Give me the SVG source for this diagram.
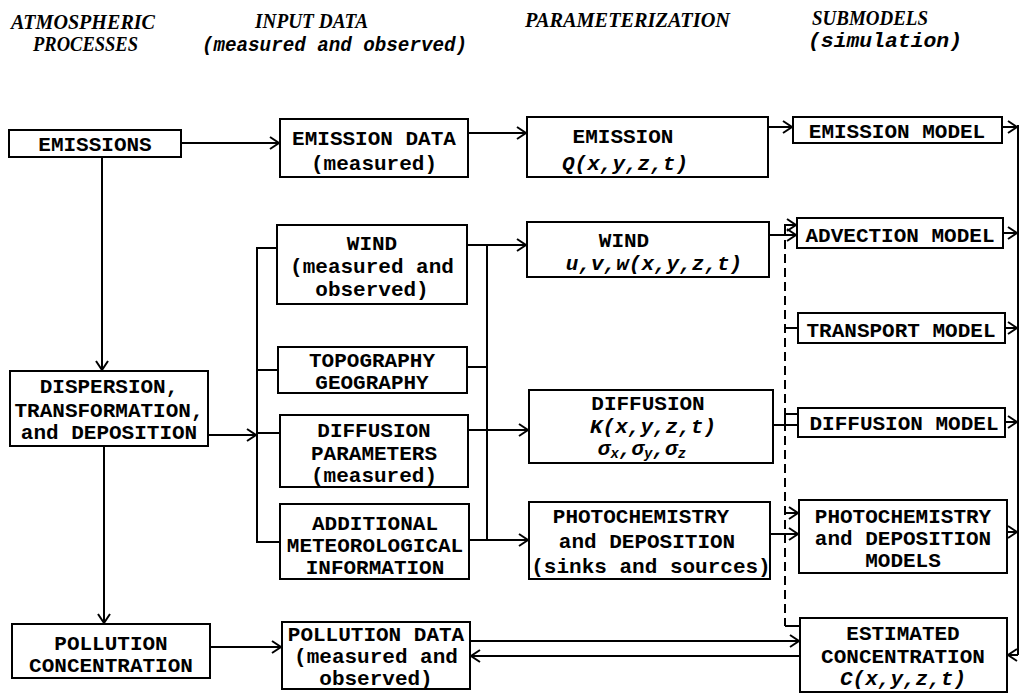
<svg xmlns="http://www.w3.org/2000/svg" width="1020" height="697" viewBox="0 0 1020 697">
  <style>
    .box { fill: #fff; stroke: #000; stroke-width: 2; }
    .ln { fill: none; stroke: #000; stroke-width: 2; }
    .dash { fill: none; stroke: #000; stroke-width: 2; stroke-dasharray: 9 5; }
    .t { font-family: "Liberation Mono", "DejaVu Sans Mono", monospace; font-size: 21px; font-weight: bold; fill: #000; text-anchor: middle; }
    .f { font-style: italic; }
    .hc { font-family: "Liberation Serif", "DejaVu Serif", serif; font-size: 20px; font-weight: bold; font-style: italic; fill: #000; }
    .hp { font-family: "Liberation Mono", "DejaVu Sans Mono", monospace; font-size: 20px; font-weight: bold; font-style: italic; fill: #000; }
  </style>
  <defs>
    <marker id="arr" markerUnits="userSpaceOnUse" markerWidth="14" markerHeight="14" viewBox="-12 -7 14 14" refX="0" refY="0" orient="auto">
      <path d="M-9,-6 L0,0 L-9,6" fill="none" stroke="#000" stroke-width="2"/>
    </marker>
  </defs>
  <rect width="1020" height="697" fill="#fff"/>

  <!-- column headings -->
  <g id="headings">
    <text class="hc" x="11" y="29" textLength="144" lengthAdjust="spacingAndGlyphs">ATMOSPHERIC</text>
    <text class="hc" x="33" y="51" textLength="105" lengthAdjust="spacingAndGlyphs">PROCESSES</text>
    <text class="hc" x="255" y="28" textLength="113" lengthAdjust="spacingAndGlyphs">INPUT DATA</text>
    <text class="hp" x="202" y="51" textLength="265" lengthAdjust="spacingAndGlyphs">(measured and observed)</text>
    <text class="hc" x="525" y="27" textLength="205" lengthAdjust="spacingAndGlyphs">PARAMETERIZATION</text>
    <text class="hc" x="812" y="25" textLength="116" lengthAdjust="spacingAndGlyphs">SUBMODELS</text>
    <text class="hp" x="808" y="47" textLength="154" lengthAdjust="spacingAndGlyphs">(simulation)</text>
  </g>

  <!-- connectors -->
  <g id="connectors">
    <!-- atmospheric processes chain -->
    <line class="ln" x1="102" y1="157" x2="102" y2="370" marker-end="url(#arr)"/>
    <line class="ln" x1="104" y1="446" x2="104" y2="623" marker-end="url(#arr)"/>
    <line class="ln" x1="181" y1="143" x2="279" y2="143" marker-end="url(#arr)"/>
    <line class="ln" x1="208" y1="435" x2="256" y2="435" marker-end="url(#arr)"/>
    <line class="ln" x1="210" y1="647" x2="281" y2="647" marker-end="url(#arr)"/>

    <!-- input data buses -->
    <polyline class="ln" points="277,248 257,248 257,542 280,542"/>
    <line class="ln" x1="257" y1="370" x2="278" y2="370"/>
    <line class="ln" x1="257" y1="433" x2="280" y2="433"/>
    <line class="ln" x1="487" y1="245" x2="487" y2="540"/>
    <line class="ln" x1="467" y1="367" x2="487" y2="367"/>

    <!-- input data to parameterization -->
    <line class="ln" x1="468" y1="133" x2="526" y2="133" marker-end="url(#arr)"/>
    <line class="ln" x1="467" y1="245" x2="526" y2="245" marker-end="url(#arr)"/>
    <line class="ln" x1="468" y1="430" x2="528" y2="430" marker-end="url(#arr)"/>
    <line class="ln" x1="469" y1="540" x2="528" y2="540" marker-end="url(#arr)"/>

    <!-- parameterization to submodels -->
    <line class="ln" x1="768" y1="127" x2="792" y2="127" marker-end="url(#arr)"/>
    <line class="ln" x1="769" y1="235" x2="796" y2="235" marker-end="url(#arr)"/>
    <line class="ln" x1="773" y1="425" x2="798" y2="425"/>
    <line class="ln" x1="770" y1="534" x2="798" y2="534" marker-end="url(#arr)"/>

    <!-- feedback of estimated concentration -->
    <line class="dash" x1="785" y1="226" x2="785" y2="626"/>
    <line class="ln" x1="784" y1="225" x2="796" y2="225" marker-end="url(#arr)"/>
    <line class="ln" x1="784" y1="328" x2="798" y2="328"/>
    <polyline class="ln" points="798,414 785,414 785,425"/>
    <line class="ln" x1="784" y1="513" x2="798" y2="513" marker-end="url(#arr)"/>
    <line class="ln" x1="785" y1="626" x2="800" y2="626"/>

    <!-- submodel outputs collected on the right -->
    <line class="ln" x1="1002" y1="127" x2="1017" y2="127" marker-end="url(#arr)"/>
    <line class="ln" x1="1003" y1="233" x2="1017" y2="233" marker-end="url(#arr)"/>
    <line class="ln" x1="1005" y1="328" x2="1017" y2="328" marker-end="url(#arr)"/>
    <line class="ln" x1="1005" y1="422" x2="1017" y2="422" marker-end="url(#arr)"/>
    <line class="ln" x1="1007" y1="532" x2="1017" y2="532" marker-end="url(#arr)"/>
    <line class="ln" x1="1018" y1="125" x2="1018" y2="655"/>
    <line class="ln" x1="1018" y1="655" x2="1008" y2="655" marker-end="url(#arr)"/>

    <!-- pollution data exchange -->
    <line class="ln" x1="470" y1="641" x2="799" y2="641" marker-end="url(#arr)"/>
    <line class="ln" x1="800" y1="656" x2="471" y2="656" marker-end="url(#arr)"/>
  </g>

  <!-- atmospheric processes -->
  <g id="emissions">
    <rect class="box" x="9" y="130" width="172" height="27"/>
    <text class="t" x="95" y="151">EMISSIONS</text>
  </g>
  <g id="dispersion">
    <rect class="box" x="10" y="371" width="198" height="75"/>
    <text class="t" x="109" y="393">DISPERSION,</text>
    <text class="t" x="109" y="417">TRANSFORMATION,</text>
    <text class="t" x="109" y="439">and DEPOSITION</text>
  </g>
  <g id="pollution-concentration">
    <rect class="box" x="12" y="624" width="198" height="54"/>
    <text class="t" x="111" y="650">POLLUTION</text>
    <text class="t" x="111" y="672">CONCENTRATION</text>
  </g>

  <!-- input data -->
  <g id="emission-data">
    <rect class="box" x="280" y="119" width="188" height="58"/>
    <text class="t" x="374" y="145">EMISSION DATA</text>
    <text class="t" x="374" y="170">(measured)</text>
  </g>
  <g id="wind-data">
    <rect class="box" x="277" y="225" width="190" height="79"/>
    <text class="t" x="372" y="250">WIND</text>
    <text class="t" x="372" y="273">(measured and</text>
    <text class="t" x="372" y="296">observed)</text>
  </g>
  <g id="topography">
    <rect class="box" x="278" y="347" width="189" height="46"/>
    <text class="t" x="372" y="367">TOPOGRAPHY</text>
    <text class="t" x="372" y="389">GEOGRAPHY</text>
  </g>
  <g id="diffusion-parameters">
    <rect class="box" x="280" y="415" width="188" height="72"/>
    <text class="t" x="374" y="437">DIFFUSION</text>
    <text class="t" x="374" y="460">PARAMETERS</text>
    <text class="t" x="374" y="482">(measured)</text>
  </g>
  <g id="additional-meteorology">
    <rect class="box" x="280" y="504" width="189" height="75"/>
    <text class="t" x="375" y="530">ADDITIONAL</text>
    <text class="t" x="375" y="552">METEOROLOGICAL</text>
    <text class="t" x="375" y="574">INFORMATION</text>
  </g>
  <g id="pollution-data">
    <rect class="box" x="282" y="622" width="188" height="67"/>
    <text class="t" x="376" y="641">POLLUTION DATA</text>
    <text class="t" x="376" y="663">(measured and</text>
    <text class="t" x="376" y="685">observed)</text>
  </g>

  <!-- parameterization -->
  <g id="emission-param">
    <rect class="box" x="527" y="117" width="241" height="60"/>
    <text class="t" x="623" y="143">EMISSION</text>
    <text class="t f" x="625" y="170">Q(x,y,z,t)</text>
  </g>
  <g id="wind-param">
    <rect class="box" x="527" y="222" width="242" height="55"/>
    <text class="t" x="624" y="247">WIND</text>
    <text class="t f" x="654" y="270">u,v,w(x,y,z,t)</text>
  </g>
  <g id="diffusion-param">
    <rect class="box" x="529" y="390" width="244" height="73"/>
    <text class="t" x="648" y="410">DIFFUSION</text>
    <text class="t f" x="653" y="433">K(x,y,z,t)</text>
    <text class="t f" x="642" y="455">σ<tspan font-size="14" dy="3">x</tspan><tspan dy="-3">,σ</tspan><tspan font-size="14" dy="3">y</tspan><tspan dy="-3">,σ</tspan><tspan font-size="14" dy="3">z</tspan></text>
  </g>
  <g id="photochemistry-param">
    <rect class="box" x="529" y="502" width="241" height="77"/>
    <text class="t" x="641" y="523">PHOTOCHEMISTRY</text>
    <text class="t" x="647" y="548">and DEPOSITION</text>
    <text class="t" x="651" y="573">(sinks and sources)</text>
  </g>

  <!-- submodels -->
  <g id="emission-model">
    <rect class="box" x="793" y="117" width="209" height="26"/>
    <text class="t" x="897" y="138">EMISSION MODEL</text>
  </g>
  <g id="advection-model">
    <rect class="box" x="797" y="218" width="206" height="30"/>
    <text class="t" x="900" y="242">ADVECTION MODEL</text>
  </g>
  <g id="transport-model">
    <rect class="box" x="798" y="313" width="207" height="30"/>
    <text class="t" x="901" y="337">TRANSPORT MODEL</text>
  </g>
  <g id="diffusion-model">
    <rect class="box" x="798" y="408" width="207" height="29"/>
    <text class="t" x="904" y="430">DIFFUSION MODEL</text>
  </g>
  <g id="photochemistry-model">
    <rect class="box" x="799" y="500" width="208" height="73"/>
    <text class="t" x="903" y="523">PHOTOCHEMISTRY</text>
    <text class="t" x="903" y="545">and DEPOSITION</text>
    <text class="t" x="903" y="567">MODELS</text>
  </g>
  <g id="estimated-concentration">
    <rect class="box" x="800" y="618" width="207" height="74"/>
    <text class="t" x="903" y="640">ESTIMATED</text>
    <text class="t" x="903" y="663">CONCENTRATION</text>
    <text class="t f" x="903" y="685">C(x,y,z,t)</text>
  </g>
</svg>
